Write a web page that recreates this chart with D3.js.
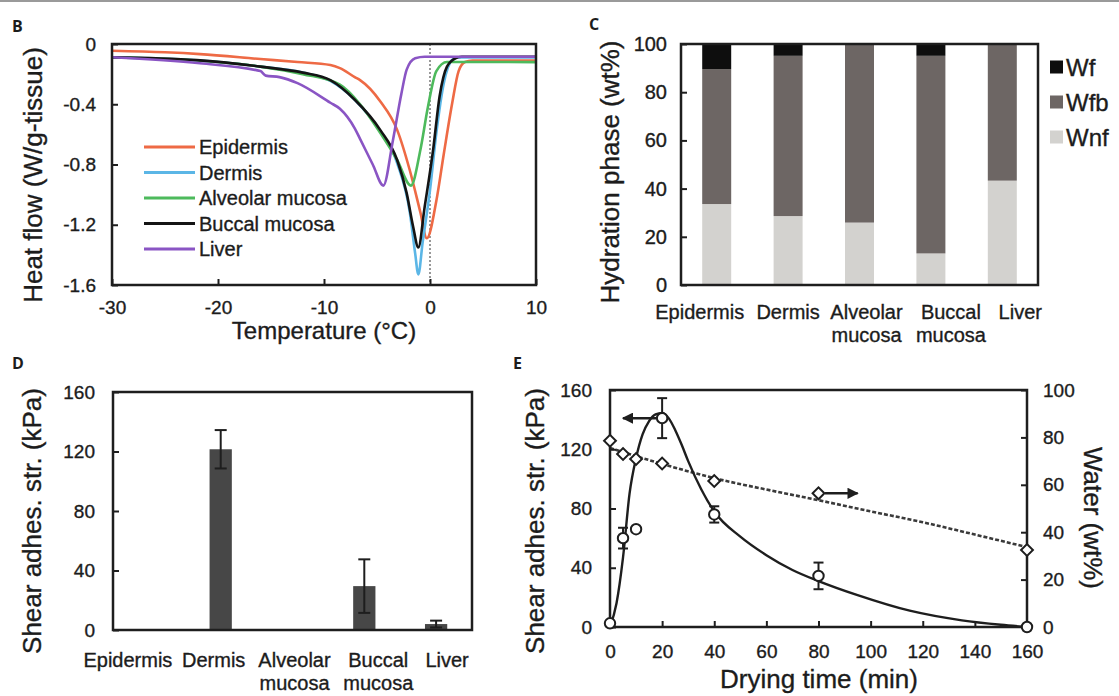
<!DOCTYPE html>
<html>
<head>
<meta charset="utf-8">
<script src="https://cdn.jsdelivr.net/npm/d3@7"></script>
<style>
body { margin: 0; background: #fff; }
text { font-family: "Liberation Sans", Arial, sans-serif; fill: #1c1c1c; stroke: #1c1c1c; stroke-width: 0.35px; }
.letter { font-family: "Open Sans", "DejaVu Sans", sans-serif; font-weight: 700; stroke-width: 0; }
</style>
</head>
<body>
<div id="fig"></div>
<script>
// ---- panel B: DSC heat flow curves, [temperature degC, W/g-tissue] ----
var dscNames = ["Epidermis", "Dermis", "Alveolar mucosa", "Buccal mucosa", "Liver"];
var dscColors = ["#ee6a45", "#5bb6e6", "#4dba5c", "#141414", "#8a55c4"];
var epidermisDsc = [[-30,-0.045],[-25,-0.055],[-21.7,-0.067],[-16,-0.1],[-12.5,-0.12],[-9.4,-0.14],[-8.5,-0.16],
  [-7.1,-0.22],[-6.6,-0.24],[-4.7,-0.38],[-3.1,-0.57],[-1.9,-0.84],[-0.9,-1.12],[-0.3,-1.29],[0.6,-1.04],
  [1.3,-0.73],[2.1,-0.39],[2.7,-0.18],[3.3,-0.12],[4,-0.11],[10,-0.11]];
var dermisDsc = [[-30,-0.09],[-22,-0.108],[-16,-0.15],[-12,-0.19],[-9.4,-0.245],[-7.1,-0.37],[-4.7,-0.58],
  [-3.1,-0.79],[-1.9,-1.12],[-1.4,-1.39],[-1.1,-1.53],[-0.7,-1.32],[0,-0.97],[0.6,-0.59],[1.3,-0.26],
  [2.1,-0.105],[2.6,-0.09],[10,-0.09]];
var alveolarDsc = [[-30,-0.09],[-22,-0.11],[-16,-0.15],[-12,-0.2],[-8.5,-0.27],[-6.6,-0.4],[-4.7,-0.59],
  [-3.1,-0.77],[-1.8,-0.94],[-0.9,-0.7],[-0.2,-0.42],[0.6,-0.18],[1.6,-0.12],[10,-0.12]];
var buccalDsc = [[-30,-0.088],[-22,-0.107],[-16,-0.15],[-12,-0.19],[-9.4,-0.24],[-7.1,-0.37],[-4.7,-0.57],
  [-3.1,-0.77],[-2.2,-0.99],[-1.6,-1.21],[-1.1,-1.35],[-0.5,-1.08],[0.3,-0.7],[0.9,-0.35],[1.6,-0.15],
  [2.4,-0.095],[3,-0.085],[10,-0.085]];
var liverDsc = [[-30,-0.088],[-21.7,-0.128],[-16,-0.18],[-15.5,-0.21],[-14.2,-0.22],[-12.5,-0.26],[-9.4,-0.39],
  [-8.5,-0.43],[-7.1,-0.56],[-6.6,-0.63],[-5.4,-0.8],[-4.4,-0.94],[-3.5,-0.64],[-2.7,-0.33],[-2.2,-0.17],
  [-1.4,-0.095],[-0.5,-0.085],[10,-0.085]];
var dscCurves = [epidermisDsc, dermisDsc, alveolarDsc, buccalDsc, liverDsc];
var tempTicks = [-30, -20, -10, 0, 10];
var heatTicks = [0, -0.4, -0.8, -1.2, -1.6];

// ---- panel C: hydration phases (wt%) ----
var tissues = ["Epidermis", "Dermis", "Alveolar mucosa", "Buccal mucosa", "Liver"];
var wnf = [33.6, 28.6, 25.9, 13.1, 43.3];
var wfb = [56.0, 66.5, 74.1, 82.0, 56.7];
var wf = [10.4, 4.9, 0, 4.9, 0];
var phaseKeys = ["Wnf", "Wfb", "Wf"];
var phaseColors = {Wnf: "#d3d2cf", Wfb: "#6d6664", Wf: "#0e0e0e"};
var hydrationTicks = [0, 20, 40, 60, 80, 100];

// ---- panel D: shear adhesive strength per tissue (kPa) ----
var shear = [0, 121.5, 0, 29.5, 4];
var shearErr = [0, 12.9, 0, 18, 2.3];
var shearTicks = [0, 40, 80, 120, 160];

// ---- panel E: drying time series ----
var dryTime = [0, 5, 10, 20, 40, 80, 160];
var dryShear = [2.5, 60, 66, 141, 76, 34.5, 0];
var dryShearErr = [0, 7, 0, 13.5, 5.5, 9, 0];
var dryWater = [78.6, 73, 70.9, 69, 61.6, 56.4, 32.5];
var shearFitTime = [0, 2.5, 5, 7.5, 10, 12.5, 15, 17.5, 20, 22.5, 25, 27.5, 30, 35, 40, 50, 60, 70, 80, 95, 115, 135, 150, 160];
var shearFitVal = [0, 16, 47, 90, 114, 130, 139, 143.5, 144.5, 141, 133, 123, 112, 93, 78, 61, 48.5, 38.5, 31, 21.5, 11, 4.5, 1.5, 0];
var waterFitTime = [0, 20, 40, 60, 80, 100, 120, 140, 160];
var waterFitVal = [75.5, 68.8, 62.8, 58, 53.5, 48.8, 44.2, 39, 33.7];
var timeTicks = [0, 20, 40, 60, 80, 100, 120, 140, 160];
var waterTicks = [0, 20, 40, 60, 80, 100];

// category labels in the source sit a little off the bar centres (px nudges)
var cLabelNudge = [-17, 0, 7, 20, 18];
var dLabelNudge = [-21, -7, 2, 14, 11];

var ink = "#1e1e1e";
var svg = d3.select("#fig").append("svg")
    .attr("width", 1119)
    .attr("height", 696);

svg.append("rect").attr("x", 0).attr("y", 0).attr("width", 1119).attr("height", 2).attr("fill", "#9a9a9a");

function tidy(g, size) {
    g.select(".domain").remove();
    g.selectAll(".tick line").attr("stroke", ink).attr("stroke-width", 2);
    g.selectAll(".tick text").attr("font-size", size).attr("fill", ink);
}

function frame(x, y) {
    var r = x.range(), d = y.range();
    svg.append("rect")
        .attr("x", Math.min(r[0], r[1])).attr("y", Math.min(d[0], d[1]))
        .attr("width", Math.abs(r[1] - r[0])).attr("height", Math.abs(d[1] - d[0]))
        .attr("fill", "none").attr("stroke", ink).attr("stroke-width", 2.5);
}

function yTitle(txt, x, y, angle) {
    svg.append("text")
        .attr("transform", "translate(" + x + "," + y + ") rotate(" + angle + ")")
        .attr("text-anchor", "middle")
        .attr("dominant-baseline", "central")
        .attr("font-size", 26)
        .text(txt);
}

function catLabels(scale, y0, nudge) {
    svg.append("g").selectAll("text").data(scale.domain())
        .enter().append("text")
        .attr("text-anchor", "middle")
        .attr("font-size", 20)
        .attr("y", y0)
        .each(function(d, k) {
            var cx = scale(d) + scale.bandwidth() / 2 + nudge[k];
            d3.select(this).selectAll("tspan").data(d.split(" "))
                .enter().append("tspan")
                .attr("x", cx)
                .attr("dy", function(p, i) { return i ? 23 : 0; })
                .text(function(p) { return p; });
        });
}

function letter(t, x, y) {
    svg.append("text").attr("class", "letter").attr("x", x).attr("y", y).attr("font-size", 16).text(t);
}

// ================= B =================
var bx = d3.scaleLinear().domain([-30, 10]).range([112, 536]);
var by = d3.scaleLinear().domain([-1.6, 0]).range([285, 44]);

svg.append("line")
    .attr("x1", bx(0)).attr("x2", bx(0)).attr("y1", by(0)).attr("y2", by(-1.6))
    .attr("stroke", "#777").attr("stroke-width", 1.5).attr("stroke-dasharray", "2,2");

var dscLine = d3.line()
    .x(function(d) { return bx(d[0]); })
    .y(function(d) { return by(d[1]); })
    .curve(d3.curveMonotoneX);

svg.append("g").selectAll("path").data(dscCurves)
    .enter().append("path")
    .attr("d", dscLine)
    .attr("fill", "none")
    .attr("stroke", function(d, i) { return dscColors[i]; })
    .attr("stroke-width", 2.6)
    .attr("stroke-linejoin", "round");

var bAxisY = svg.append("g").attr("transform", "translate(112,0)")
    .call(d3.axisLeft(by).tickValues(heatTicks).tickSize(-6).tickPadding(16)
        .tickFormat(function(d) { return d === 0 ? "0" : d.toFixed(1); }));
tidy(bAxisY, 19);
var bAxisX = svg.append("g").attr("transform", "translate(0,285)")
    .call(d3.axisBottom(bx).tickValues(tempTicks).tickSize(-6).tickPadding(16)
        .tickFormat(function(d) { return String(d); }));
tidy(bAxisX, 19);
frame(bx, by);

var bLeg = svg.append("g").selectAll("g").data(dscNames)
    .enter().append("g")
    .attr("transform", function(d, i) { return "translate(144," + (147 + i * 25.5) + ")"; });
bLeg.append("line").attr("x1", 0).attr("x2", 51)
    .attr("stroke", function(d, i) { return dscColors[i]; }).attr("stroke-width", 3);
bLeg.append("text").attr("x", 55).attr("y", 7).attr("font-size", 20).text(function(d) { return d; });

yTitle("Heat flow (W/g-tissue)", 33, 175, -90);
svg.append("text").attr("x", 324).attr("y", 339).attr("text-anchor", "middle")
    .attr("font-size", 24).text("Temperature (\u00B0C)");
letter("B", 12, 32);

// ================= C =================
var cx = d3.scaleBand().domain(tissues).range([681, 1038]).paddingInner(0.594).paddingOuter(0.297);
var cy = d3.scaleLinear().domain([0, 100]).range([285, 44]);
var phaseRows = tissues.map(function(t, i) { return {tissue: t, Wnf: wnf[i], Wfb: wfb[i], Wf: wf[i]}; });
var stacked = d3.stack().keys(phaseKeys)(phaseRows);

svg.append("g").selectAll("g").data(stacked)
    .enter().append("g")
    .attr("fill", function(s) { return phaseColors[s.key]; })
    .selectAll("rect").data(function(s) { return s; })
    .enter().append("rect")
    .attr("x", function(d) { return cx(d.data.tissue); })
    .attr("width", cx.bandwidth())
    .attr("y", function(d) { return cy(d[1]); })
    .attr("height", function(d) { return cy(d[0]) - cy(d[1]); });

var cAxisY = svg.append("g").attr("transform", "translate(681,0)")
    .call(d3.axisLeft(cy).tickValues(hydrationTicks).tickSize(-6).tickPadding(14));
tidy(cAxisY, 20);
frame(cx, cy);
catLabels(cx, 319, cLabelNudge);

var cLeg = svg.append("g").selectAll("g").data(phaseKeys.slice().reverse())
    .enter().append("g")
    .attr("transform", function(d, i) { return "translate(1050," + (67 + i * 35) + ")"; });
cLeg.append("rect").attr("x", 0).attr("y", -6.5).attr("width", 13).attr("height", 13)
    .attr("fill", function(d) { return phaseColors[d]; });
cLeg.append("text").attr("x", 16).attr("y", 8.5).attr("font-size", 24).text(function(d) { return d; });

yTitle("Hydration phase (wt%)", 610, 172, -90);
letter("C", 589, 30);

// ================= D =================
var dx = d3.scaleBand().domain(tissues).range([113, 472]).paddingInner(0.69).paddingOuter(0.345);
var dy = d3.scaleLinear().domain([0, 160]).range([630, 392]);
var shearRows = tissues.map(function(t, i) { return {tissue: t, v: shear[i], e: shearErr[i]}; });

svg.append("g").selectAll("rect").data(shearRows)
    .enter().append("rect")
    .attr("x", function(d) { return dx(d.tissue); })
    .attr("width", dx.bandwidth())
    .attr("y", function(d) { return dy(d.v); })
    .attr("height", function(d) { return dy(0) - dy(d.v); })
    .attr("fill", "#474747");

var dErr = svg.append("g").attr("stroke", ink).attr("stroke-width", 2)
    .selectAll("g").data(shearRows.filter(function(d) { return d.e > 0; }))
    .enter().append("g")
    .attr("transform", function(d) { return "translate(" + (dx(d.tissue) + dx.bandwidth() / 2) + ",0)"; });
dErr.append("line").attr("y1", function(d) { return dy(d.v - d.e); }).attr("y2", function(d) { return dy(d.v + d.e); });
dErr.append("line").attr("x1", -6).attr("x2", 6)
    .attr("y1", function(d) { return dy(d.v + d.e); }).attr("y2", function(d) { return dy(d.v + d.e); });
dErr.append("line").attr("x1", -6).attr("x2", 6)
    .attr("y1", function(d) { return dy(d.v - d.e); }).attr("y2", function(d) { return dy(d.v - d.e); });

var dAxisY = svg.append("g").attr("transform", "translate(113,0)")
    .call(d3.axisLeft(dy).tickValues(shearTicks).tickSize(-6).tickPadding(18));
tidy(dAxisY, 19);
frame(dx, dy);
catLabels(dx, 667, dLabelNudge);

yTitle("Shear adhes. str. (kPa)", 32, 521, -90);
letter("D", 12, 369);

// ================= E =================
var ex = d3.scaleLinear().domain([0, 160]).range([610, 1027]);
var eyL = d3.scaleLinear().domain([0, 160]).range([627, 390]);
var eyR = d3.scaleLinear().domain([0, 100]).range([627, 390]);

var defs = svg.append("defs");
defs.append("marker").attr("id", "head")
    .attr("viewBox", "0 0 10 10").attr("refX", 9).attr("refY", 5)
    .attr("markerWidth", 4.5).attr("markerHeight", 4.5).attr("markerUnits", "strokeWidth")
    .attr("orient", "auto")
    .append("path").attr("d", "M0,0L10,5L0,10Z").attr("fill", ink);

var shearFit = shearFitTime.map(function(t, i) { return [t, shearFitVal[i]]; });
var waterFit = waterFitTime.map(function(t, i) { return [t, waterFitVal[i]]; });

svg.append("path")
    .attr("d", d3.line().x(function(d) { return ex(d[0]); }).y(function(d) { return eyR(d[1]); })
        .curve(d3.curveMonotoneX)(waterFit))
    .attr("fill", "none").attr("stroke", "#3a3a3a").attr("stroke-width", 2.6).attr("stroke-dasharray", "4,2");
svg.append("path")
    .attr("d", d3.line().x(function(d) { return ex(d[0]); }).y(function(d) { return eyL(d[1]); })
        .curve(d3.curveMonotoneX)(shearFit))
    .attr("fill", "none").attr("stroke", ink).attr("stroke-width", 2.4);

var dryRows = dryTime.map(function(t, i) { return {t: t, s: dryShear[i], e: dryShearErr[i], w: dryWater[i]}; });

var eErr = svg.append("g").attr("stroke", ink).attr("stroke-width", 2)
    .selectAll("g").data(dryRows.filter(function(d) { return d.e > 0; }))
    .enter().append("g")
    .attr("transform", function(d) { return "translate(" + ex(d.t) + ",0)"; });
eErr.append("line").attr("y1", function(d) { return eyL(d.s - d.e); }).attr("y2", function(d) { return eyL(d.s + d.e); });
eErr.append("line").attr("x1", -5).attr("x2", 5)
    .attr("y1", function(d) { return eyL(d.s + d.e); }).attr("y2", function(d) { return eyL(d.s + d.e); });
eErr.append("line").attr("x1", -5).attr("x2", 5)
    .attr("y1", function(d) { return eyL(d.s - d.e); }).attr("y2", function(d) { return eyL(d.s - d.e); });

var eAxisX = svg.append("g").attr("transform", "translate(0,627)")
    .call(d3.axisBottom(ex).tickValues(timeTicks).tickSize(-6).tickPadding(18));
tidy(eAxisX, 19);
var eAxisL = svg.append("g").attr("transform", "translate(610,0)")
    .call(d3.axisLeft(eyL).tickValues(shearTicks).tickSize(-6).tickPadding(18));
tidy(eAxisL, 19);
var eAxisR = svg.append("g").attr("transform", "translate(1027,0)")
    .call(d3.axisRight(eyR).tickValues(waterTicks).tickSize(-6).tickPadding(16));
tidy(eAxisR, 19);
frame(ex, eyL);

svg.append("g").selectAll("path").data(dryRows)
    .enter().append("path")
    .attr("d", d3.symbol(d3.symbolSquare, 70))
    .attr("transform", function(d) { return "translate(" + ex(d.t) + "," + eyR(d.w) + ") rotate(45)"; })
    .attr("fill", "#fff").attr("stroke", ink).attr("stroke-width", 2);
svg.append("g").selectAll("circle").data(dryRows)
    .enter().append("circle")
    .attr("cx", function(d) { return ex(d.t); })
    .attr("cy", function(d) { return eyL(d.s); })
    .attr("r", 5.2)
    .attr("fill", "#fff").attr("stroke", ink).attr("stroke-width", 2);

svg.append("line")
    .attr("x1", ex(18)).attr("x2", ex(5)).attr("y1", eyL(141)).attr("y2", eyL(141))
    .attr("stroke", ink).attr("stroke-width", 2.5).attr("marker-end", "url(#head)");
svg.append("line")
    .attr("x1", ex(82.5)).attr("x2", ex(95)).attr("y1", eyR(56.4)).attr("y2", eyR(56.4))
    .attr("stroke", ink).attr("stroke-width", 2.5).attr("marker-end", "url(#head)");

yTitle("Shear adhes. str. (kPa)", 535, 521, -90);
yTitle("Water (wt%)", 1093, 518, 90);
svg.append("text").attr("x", 819).attr("y", 688).attr("text-anchor", "middle")
    .attr("font-size", 26).text("Drying time (min)");
letter("E", 513, 369);
</script>
</body>
</html>
